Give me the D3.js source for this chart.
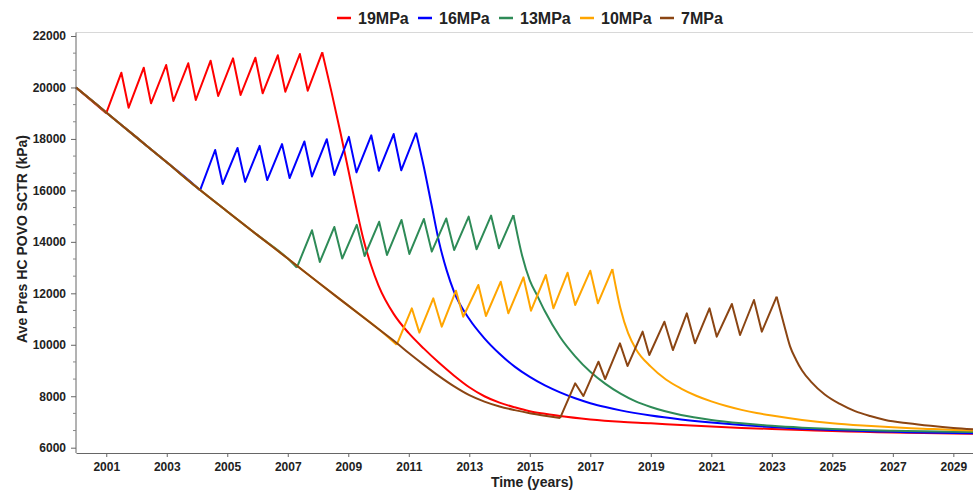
<!DOCTYPE html>
<html>
<head>
<meta charset="utf-8">
<script src="https://cdn.jsdelivr.net/npm/d3@7"></script>
<style>
  html, body { margin: 0; padding: 0; background: #fff; }
  svg { display: block; }
  text { font-family: "Liberation Sans", Arial, sans-serif; font-weight: bold; fill: #222; }
</style>
</head>
<body>
<svg id="chart" width="973" height="491"></svg>
<script>
// Depletion before injection starts (shared by every case)
const baseYears = [2000, 2001, 2002, 2003, 2004, 2005, 2006, 2007, 2008, 2009, 2010, 2010.6, 2011, 2011.5, 2012, 2012.5, 2013, 2013.5, 2014, 2014.5, 2015, 2015.5, 2016];
const basePres  = [20000, 19030, 18060, 17090, 16110, 15180, 14260, 13350, 12430, 11520, 10610, 10070, 9680, 9220, 8780, 8380, 8040, 7790, 7600, 7460, 7340, 7240, 7150];

// Injection cycles at each pressure limit
const inj19Years = [2001.0, 2001.5, 2001.74, 2002.24, 2002.48, 2002.98, 2003.22, 2003.71, 2003.96, 2004.45, 2004.7, 2005.19, 2005.44, 2005.93, 2006.17, 2006.67, 2006.92, 2007.4, 2007.66, 2008.14];
const inj19Pres  = [19000, 20574, 19213, 20768, 19384, 20873, 19474, 20939, 19513, 21040, 19668, 21133, 19707, 21157, 19773, 21250, 19835, 21300, 19874, 21366];
const inj16Years = [2004.1, 2004.6, 2004.85, 2005.34, 2005.59, 2006.07, 2006.32, 2006.81, 2007.06, 2007.55, 2007.8, 2008.29, 2008.54, 2009.02, 2009.27, 2009.76, 2010.01, 2010.5, 2010.75, 2011.24];
const inj16Pres  = [16000, 17570, 16250, 17650, 16330, 17730, 16400, 17800, 16480, 17900, 16540, 17990, 16600, 18080, 16700, 18140, 16760, 18190, 16780, 18240];
const inj13Years = [2007.3, 2007.8, 2008.06, 2008.54, 2008.8, 2009.28, 2009.54, 2010.02, 2010.28, 2010.76, 2011.02, 2011.5, 2011.76, 2012.24, 2012.5, 2012.98, 2013.24, 2013.72, 2013.98, 2014.46];
const inj13Pres  = [13000, 14450, 13220, 14580, 13350, 14660, 13450, 14780, 13490, 14850, 13530, 14890, 13620, 14910, 13680, 14980, 13710, 15020, 13750, 15040];
const inj10Years = [2010.6, 2011.1, 2011.35, 2011.81, 2012.09, 2012.56, 2012.8, 2013.3, 2013.55, 2014.04, 2014.29, 2014.79, 2015.04, 2015.53, 2015.78, 2016.25, 2016.5, 2017.0, 2017.25, 2017.73];
const inj10Pres  = [10000, 11417, 10471, 11805, 10703, 12101, 11091, 12323, 11118, 12451, 11222, 12622, 11325, 12712, 11417, 12801, 11545, 12878, 11611, 12944];
const inj7Years  = [2016.0, 2016.5, 2016.77, 2017.27, 2017.49, 2017.98, 2018.23, 2018.73, 2018.95, 2019.45, 2019.73, 2020.19, 2020.46, 2020.94, 2021.18, 2021.68, 2021.95, 2022.41, 2022.67, 2023.16];
const inj7Pres   = [7150, 8502, 8008, 9343, 8668, 10056, 9174, 10510, 9602, 10897, 9796, 11222, 10056, 11417, 10314, 11584, 10380, 11740, 10510, 11869];

// Fall-off after injection stops
const fall19Years = [2008.14, 2008.45, 2008.75, 2009.0, 2009.25, 2009.5, 2009.75, 2010.0, 2010.5, 2011, 2011.5, 2012, 2012.5, 2013, 2013.5, 2014, 2014.5, 2015, 2015.5, 2016, 2017, 2018, 2019, 2020, 2021, 2022, 2023, 2024, 2025, 2026, 2027, 2028, 2029, 2029.65];
const fall19Pres  = [21366, 19800, 18200, 16800, 15400, 14100, 13100, 12300, 11200, 10450, 9850, 9300, 8800, 8350, 8000, 7750, 7570, 7420, 7320, 7230, 7100, 7010, 6950, 6880, 6820, 6770, 6730, 6690, 6650, 6620, 6590, 6570, 6550, 6540];
const fall16Years = [2011.24, 2011.5, 2011.75, 2012.0, 2012.25, 2012.5, 2013, 2013.5, 2014, 2014.5, 2015, 2015.5, 2016, 2016.5, 2017, 2017.5, 2018, 2019, 2020, 2021, 2022, 2023, 2024, 2025, 2026, 2027, 2028, 2029, 2029.65];
const fall16Pres  = [18240, 16900, 15450, 14000, 12900, 12050, 11000, 10250, 9650, 9150, 8750, 8420, 8150, 7920, 7730, 7580, 7450, 7250, 7100, 6980, 6880, 6800, 6740, 6690, 6650, 6620, 6590, 6570, 6560];
const fall13Years = [2014.46, 2014.75, 2015.0, 2015.25, 2015.5, 2016, 2016.5, 2017, 2017.5, 2018, 2018.5, 2019, 2020, 2021, 2022, 2023, 2024, 2025, 2026, 2027, 2028, 2029, 2029.65];
const fall13Pres  = [15040, 13450, 12500, 11900, 11300, 10300, 9550, 8950, 8480, 8100, 7800, 7580, 7270, 7080, 6950, 6850, 6780, 6730, 6690, 6660, 6640, 6620, 6610];
const fall10Years = [2017.73, 2018.0, 2018.25, 2018.5, 2019, 2019.5, 2020, 2020.5, 2021, 2021.5, 2022, 2022.5, 2023, 2024, 2025, 2026, 2027, 2028, 2029, 2029.65];
const fall10Pres  = [12944, 11400, 10450, 9850, 9150, 8650, 8300, 8020, 7800, 7620, 7470, 7350, 7250, 7080, 6950, 6860, 6790, 6740, 6690, 6670];
const fall7Years  = [2023.16, 2023.4, 2023.6, 2023.8, 2024.0, 2024.3, 2024.75, 2025.25, 2025.75, 2026.25, 2026.75, 2027.5, 2028.25, 2029, 2029.65];
const fall7Pres   = [11869, 10800, 9950, 9420, 9000, 8560, 8070, 7700, 7420, 7230, 7080, 6950, 6850, 6770, 6720];

const seriesNames  = ["19MPa", "16MPa", "13MPa", "10MPa", "7MPa"];
const seriesColors = ["#ff0000", "#0000ff", "#2e8b57", "#ffa500", "#8b4513"];
const xTickYears = [2001, 2003, 2005, 2007, 2009, 2011, 2013, 2015, 2017, 2019, 2021, 2023, 2025, 2027, 2029];
const yTickValues = [6000, 8000, 10000, 12000, 14000, 16000, 18000, 20000, 22000];

(function () {
  const zip = (xs, ys) => xs.map((v, i) => [v, ys[i]]);
  const injYears  = [inj19Years, inj16Years, inj13Years, inj10Years, inj7Years];
  const injPres   = [inj19Pres, inj16Pres, inj13Pres, inj10Pres, inj7Pres];
  const fallYears = [fall19Years, fall16Years, fall13Years, fall10Years, fall7Years];
  const fallPres  = [fall19Pres, fall16Pres, fall13Pres, fall10Pres, fall7Pres];

  const series = seriesNames.map((name, i) => {
    const start = injYears[i][0];
    const base = zip(baseYears, basePres).filter(d => d[0] < start);
    const inj = zip(injYears[i], injPres[i]);
    base.push(inj[0]);
    return { name, color: seriesColors[i], base, inj, fall: zip(fallYears[i], fallPres[i]) };
  });

  const svg = d3.select("#chart");
  svg.append("rect").attr("width", 973).attr("height", 491).attr("fill", "#fff");

  const plotLeft = 76, plotRight = 973, plotTop = 32.5, plotBottom = 453;
  const x = d3.scaleLinear().domain([2000, 2029.65]).range([plotLeft, plotRight]);
  const y = d3.scaleLinear().domain([6000, 22000]).range([447.7, 36]);

  // plot frame (top edge)
  svg.append("line").attr("x1", plotLeft).attr("x2", plotRight).attr("y1", plotTop).attr("y2", plotTop)
    .attr("stroke", "#d8d8d8").attr("stroke-width", 1);

  // series
  const lineLin = d3.line().x(d => x(d[0])).y(d => y(d[1]));
  const lineSmooth = d3.line().x(d => x(d[0])).y(d => y(d[1])).curve(d3.curveMonotoneX);
  const plot = svg.append("g");
  series.forEach(s => {
    const g = plot.append("g").attr("fill", "none").attr("stroke", s.color)
      .attr("stroke-width", 2).attr("stroke-linejoin", "round");
    g.append("path").attr("d", lineSmooth(s.base));
    g.append("path").attr("d", lineLin(s.inj));
    g.append("path").attr("d", lineSmooth(s.fall));
  });

  // y axis
  const yAxis = svg.append("g").attr("transform", `translate(${plotLeft},0)`)
    .call(d3.axisLeft(y).tickValues(yTickValues).tickFormat(d3.format("d")).tickSize(5).tickPadding(5).tickSizeOuter(0));
  yAxis.select(".domain").remove();
  yAxis.append("line").attr("x1", 0).attr("x2", 0).attr("y1", plotTop).attr("y2", plotBottom).attr("stroke", "#666");
  yAxis.selectAll(".tick line").attr("stroke", "#666");
  yAxis.selectAll(".tick text").style("font-size", "12px").style("font-weight", "bold").attr("fill", "#222");
  const yMinor = d3.range(6000, 22000, 2000).flatMap(v => [v + 2000 / 3, v + 4000 / 3]);
  yAxis.selectAll(".minor").data(yMinor).join("line").attr("class", "minor")
    .attr("x1", -3).attr("x2", 0).attr("y1", d => y(d)).attr("y2", d => y(d)).attr("stroke", "#888");

  // x axis
  const xAxis = svg.append("g").attr("transform", `translate(0,${plotBottom})`)
    .call(d3.axisBottom(x).tickValues(xTickYears).tickFormat(d3.format("d")).tickSize(4).tickPadding(5).tickSizeOuter(0));
  xAxis.select(".domain").attr("stroke", "#666");
  xAxis.selectAll(".tick line").attr("stroke", "#666");
  xAxis.selectAll(".tick text").style("font-size", "12px").style("font-weight", "bold").attr("fill", "#222");

  // axis titles
  svg.append("text").attr("transform", "translate(27,239) rotate(-90)").attr("text-anchor", "middle")
    .style("font-size", "14px").text("Ave Pres HC POVO SCTR (kPa)");
  svg.append("text").attr("x", 532).attr("y", 487).attr("text-anchor", "middle")
    .style("font-size", "14px").text("Time (years)");

  // legend
  const legendX = [337, 418, 499, 580, 660];
  const legend = svg.append("g");
  series.forEach((s, i) => {
    const g = legend.append("g").attr("transform", `translate(${legendX[i]},0)`);
    g.append("line").attr("x1", 0).attr("x2", 14).attr("y1", 18).attr("y2", 18)
      .attr("stroke", s.color).attr("stroke-width", 2.5);
    g.append("text").attr("x", 21).attr("y", 24).style("font-size", "16px").text(s.name);
  });
})();
</script>
</body>
</html>
